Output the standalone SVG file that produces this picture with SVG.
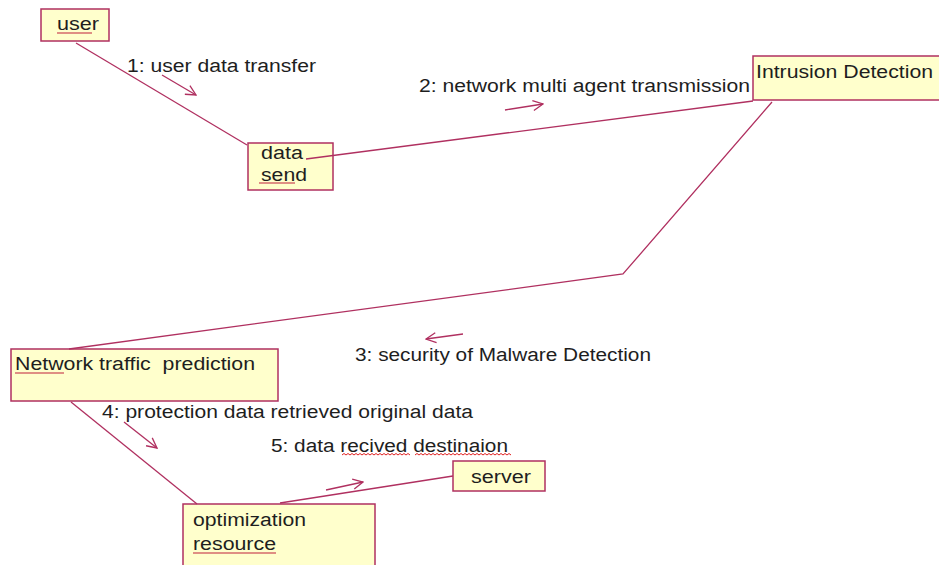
<svg xmlns="http://www.w3.org/2000/svg" width="939" height="565" viewBox="0 0 939 565">
<style>
.box{fill:#ffffcc;stroke:#b03060;stroke-width:1.5}
.t{font-family:"Liberation Sans",Arial,sans-serif;font-size:18px;fill:#1e1e1e}
.ln{fill:none;stroke:#b03060;stroke-width:1.3}
.ul{fill:none;stroke:#c0203a;stroke-width:1.2}
.wv{fill:none;stroke:#e02020;stroke-width:1}
.ar{fill:none;stroke:#b03060;stroke-width:1.3}
</style>
<defs>
<marker id="open" viewBox="0 0 12 12" refX="11" refY="6" markerWidth="12" markerHeight="12" markerUnits="userSpaceOnUse" orient="auto">
<path d="M1,1 L11,6 L1,11" fill="none" stroke="#b03060" stroke-width="1.3"/>
</marker>
</defs>
<rect width="939" height="565" fill="#ffffff"/>

<g id="user">
<rect class="box" x="41" y="9" width="68" height="32"/>
<text class="t" x="57" y="30" textLength="42" lengthAdjust="spacingAndGlyphs">user</text>
<line class="ul" x1="57" y1="33" x2="92" y2="33"/>
</g>

<g id="data-send">
<rect class="box" x="248" y="143" width="85" height="47"/>
<text class="t" x="261" y="159" textLength="42" lengthAdjust="spacingAndGlyphs">data</text>
<text class="t" x="261" y="181" textLength="46" lengthAdjust="spacingAndGlyphs">send</text>
<line class="ul" x1="259" y1="183" x2="295" y2="183"/>
</g>

<g id="intrusion-detection">
<rect class="box" x="753" y="56" width="190" height="44"/>
<text class="t" x="756" y="78" textLength="177" lengthAdjust="spacingAndGlyphs">Intrusion Detection</text>
</g>

<g id="network-traffic-prediction">
<rect class="box" x="11" y="349" width="267" height="52"/>
<text class="t" x="15" y="370" textLength="240" lengthAdjust="spacingAndGlyphs" xml:space="preserve">Network traffic  prediction</text>
<line class="ul" x1="15" y1="373" x2="64" y2="373"/>
</g>

<g id="server">
<rect class="box" x="453" y="461" width="92" height="30"/>
<text class="t" x="471" y="483" textLength="60" lengthAdjust="spacingAndGlyphs">server</text>
</g>

<g id="optimization-resource">
<rect class="box" x="183" y="504" width="192" height="70"/>
<text class="t" x="193" y="526" textLength="113" lengthAdjust="spacingAndGlyphs">optimization</text>
<text class="t" x="193" y="550" textLength="83" lengthAdjust="spacingAndGlyphs">resource</text>
<line class="ul" x1="193" y1="553" x2="276" y2="553"/>
</g>

<g id="connectors">
<line class="ln" x1="76" y1="43" x2="247" y2="145"/>
<line class="ln" x1="306" y1="159" x2="753" y2="101"/>
<polyline class="ln" points="772,102 623,274 69,349"/>
<line class="ln" x1="71" y1="402" x2="197" y2="504"/>
<line class="ln" x1="280" y1="503" x2="453" y2="476"/>
<line class="ar" x1="162" y1="75" x2="196" y2="95" marker-end="url(#open)"/>
<line class="ar" x1="505" y1="110" x2="543" y2="104" marker-end="url(#open)"/>
<line class="ar" x1="463" y1="334" x2="426" y2="339" marker-end="url(#open)"/>
<line class="ar" x1="124" y1="422" x2="157" y2="448" marker-end="url(#open)"/>
<line class="ar" x1="326" y1="490" x2="363" y2="482" marker-end="url(#open)"/>
<text class="t" x="127" y="72" textLength="189" lengthAdjust="spacingAndGlyphs">1: user data transfer</text>
<text class="t" x="419" y="92" textLength="331" lengthAdjust="spacingAndGlyphs">2: network multi agent transmission</text>
<text class="t" x="355" y="361" textLength="296" lengthAdjust="spacingAndGlyphs">3: security of Malware Detection</text>
<text class="t" x="102" y="418" textLength="371" lengthAdjust="spacingAndGlyphs">4: protection data retrieved original data</text>
<text class="t" x="271" y="452" textLength="237" lengthAdjust="spacingAndGlyphs">5: data recived destinaion</text>
<path class="wv" d="M342,455 l2,-1.5 l2,1.5 l2,-1.5 l2,1.5 l2,-1.5 l2,1.5 l2,-1.5 l2,1.5 l2,-1.5 l2,1.5 l2,-1.5 l2,1.5 l2,-1.5 l2,1.5 l2,-1.5 l2,1.5 l2,-1.5 l2,1.5 l2,-1.5 l2,1.5 l2,-1.5 l2,1.5 l2,-1.5 l2,1.5 l2,-1.5 l2,1.5 l2,-1.5 l2,1.5 l2,-1.5 l2,1.5 l2,-1.5 l2,1.5 l2,-1.5 l2,1.5"/>
<path class="wv" d="M415,455 l2,-1.5 l2,1.5 l2,-1.5 l2,1.5 l2,-1.5 l2,1.5 l2,-1.5 l2,1.5 l2,-1.5 l2,1.5 l2,-1.5 l2,1.5 l2,-1.5 l2,1.5 l2,-1.5 l2,1.5 l2,-1.5 l2,1.5 l2,-1.5 l2,1.5 l2,-1.5 l2,1.5 l2,-1.5 l2,1.5 l2,-1.5 l2,1.5 l2,-1.5 l2,1.5 l2,-1.5 l2,1.5 l2,-1.5 l2,1.5 l2,-1.5 l2,1.5 l2,-1.5 l2,1.5 l2,-1.5 l2,1.5 l2,-1.5 l2,1.5 l2,-1.5 l2,1.5 l2,-1.5 l2,1.5 l2,-1.5 l2,1.5 l2,-1.5 l2,1.5"/>
</g>
</svg>
